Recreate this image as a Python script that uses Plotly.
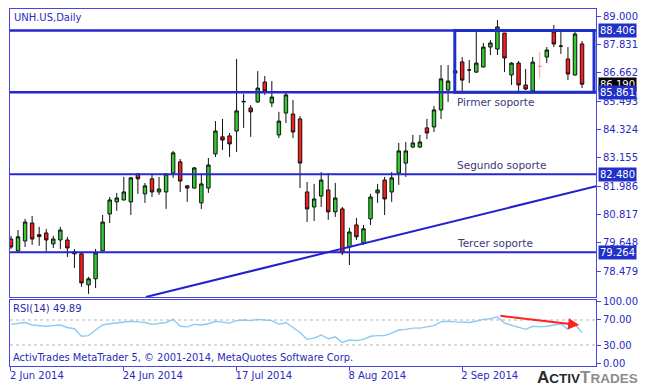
import plotly.graph_objects as go

# ---------------- data ----------------
symbol_title = "UNH.US,Daily"
date_ticks = [0, 16, 32, 48, 64]
date_labels = ["2 Jun 2014", "24 Jun 2014", "17 Jul 2014", "8 Aug 2014", "2 Sep 2014"]

opens = [79.81, 79.32, 79.73, 80.47, 79.99, 80.06, 79.61, 79.77, 79.77, 79.28,
         79.20, 77.92, 78.17, 79.32, 80.84, 81.34, 81.42, 81.34, 82.49, 81.67,
         82.29, 81.75, 81.75, 82.53, 82.99, 82.00, 81.91, 81.30, 81.91, 83.32,
         84.02, 84.06, 84.26, 85.46, 85.21, 85.46, 86.28, 85.42, 84.10, 85.00,
         84.96, 84.76, 81.75, 81.13, 81.58, 81.83, 80.93, 81.05, 79.48, 80.39,
         79.65, 80.64, 81.71, 82.24, 81.75, 82.53, 82.94, 83.60, 83.60, 84.39,
         84.43, 85.13, 85.95, 86.74, 87.11, 86.78, 86.69, 86.90, 87.72, 87.64,
         88.30, 86.57, 87.06, 86.16, 85.91, 86.94, 87.31, 88.34, 87.76, 87.23,
         86.57, 87.85]
highs = [79.94, 80.18, 80.64, 80.76, 80.31, 80.23, 79.94, 80.31, 79.90, 79.40,
         79.24, 78.25, 79.40, 80.80, 81.54, 81.71, 82.37, 82.37, 82.53, 82.12,
         82.49, 82.37, 82.53, 83.44, 83.11, 82.04, 82.78, 82.49, 83.15, 84.67,
         84.76, 84.18, 87.23, 85.79, 85.33, 86.73, 86.53, 86.32, 85.05, 85.83,
         85.54, 84.88, 82.16, 82.08, 82.57, 82.53, 82.12, 81.13, 80.27, 80.68,
         80.39, 81.67, 82.08, 82.37, 82.57, 83.77, 83.81, 84.10, 84.10, 84.76,
         85.29, 86.98, 86.98, 87.19, 87.31, 87.19, 88.38, 87.89, 88.01, 88.84,
         88.30, 87.10, 87.15, 86.82, 87.31, 87.52, 87.72, 88.63, 88.34, 87.72,
         88.34, 87.97]
lows = [79.40, 79.28, 79.48, 79.57, 79.53, 79.28, 79.44, 79.40, 79.07, 78.62,
        77.84, 77.55, 77.79, 79.30, 80.47, 80.97, 81.40, 80.80, 81.67, 81.30,
        81.54, 81.63, 81.05, 82.33, 81.75, 81.34, 81.89, 81.05, 81.71, 83.19,
        83.48, 83.19, 83.40, 84.39, 84.02, 85.42, 85.75, 85.25, 83.97, 84.59,
        83.97, 81.91, 80.51, 80.55, 81.13, 80.60, 80.72, 79.15, 78.74, 79.77,
        79.57, 80.39, 81.30, 80.80, 81.34, 82.04, 82.37, 83.56, 83.56, 83.93,
        84.22, 84.76, 85.46, 86.36, 85.83, 86.24, 86.65, 86.88, 87.39, 87.39,
        86.69, 86.16, 85.87, 85.95, 85.89, 86.45, 87.06, 87.72, 87.44, 86.36,
        86.55, 86.03]
closes = [79.48, 79.90, 80.51, 79.81, 79.91, 79.77, 79.81, 80.18, 79.44, 79.20,
          78.00, 78.17, 79.24, 80.51, 81.42, 81.50, 81.75, 82.33, 82.29, 82.00,
          81.75, 81.87, 82.49, 83.36, 82.20, 81.91, 82.74, 82.08, 82.86, 84.26,
          83.89, 83.73, 85.09, 85.48, 85.05, 86.03, 85.91, 85.66, 84.67, 85.75,
          84.22, 82.94, 81.05, 81.46, 82.24, 80.93, 81.50, 79.24, 80.10, 79.90,
          80.23, 81.54, 81.83, 81.46, 82.33, 83.44, 83.44, 83.77, 83.81, 84.18,
          85.13, 86.41, 86.32, 86.65, 86.36, 86.78, 87.06, 87.72, 87.89, 88.55,
          87.27, 87.06, 86.16, 85.99, 87.10, 86.92, 87.60, 87.85, 87.76, 86.61,
          88.26, 86.19]
faded_bars = [75]   # bar drawn in pale red in the reference

rsi = [63, 65, 66, 62, 61, 60, 61, 62, 58, 56,
       44, 45, 54, 62, 64, 65, 66, 68, 67, 66,
       63, 64, 66, 71, 60, 59, 63, 62, 64, 68,
       66, 65, 69, 70, 69, 71, 70, 69, 63, 66,
       58, 50, 39, 41, 46, 40, 43, 34, 38, 37,
       39, 44, 45, 45, 49, 54, 55, 57, 57, 59,
       61, 67, 68, 67, 66, 66, 68, 71, 72, 75,
       65, 62, 58, 55, 60, 59, 60, 62, 64, 55,
       63, 49.89]
rsi_last = 49.89

price_ticks = [89.000, 87.831, 86.662, 85.493, 84.324, 83.155, 81.986, 80.817, 79.648, 78.479]
rsi_ticks = [100, 70, 30, 0]
rsi_levels = [70, 30]

resistance = 88.406
support1 = 85.861
support2 = 82.480
support3 = 79.264
last_price = 86.190
range_box_bars = [62.95, 82.7]
trend_bars = [19.14, 83.0]
trend_prices = [77.42, 81.986]
rsi_arrow_bars = [69.2, 80.6]
rsi_arrow_vals = [77, 62]

# ---------------- styling ----------------
FONT = "DejaVu Sans"
LINE_BLUE = "#2626d2"
TXT = "#3a3a78"
AXC = "#4646e0"

bars = list(range(len(closes)))
main_idx = [i for i in bars if i not in faded_bars]

fig = go.Figure()
fig.add_trace(go.Candlestick(
    x=[bars[i] for i in main_idx],
    open=[opens[i] for i in main_idx], high=[highs[i] for i in main_idx],
    low=[lows[i] for i in main_idx], close=[closes[i] for i in main_idx],
    xaxis="x", yaxis="y", whiskerwidth=0,
    increasing=dict(line=dict(color="#111111", width=1), fillcolor="#33cc33"),
    decreasing=dict(line=dict(color="#111111", width=1), fillcolor="#ff1a1a"),
    showlegend=False, hoverinfo="skip"))
fig.add_trace(go.Candlestick(
    x=[bars[i] for i in faded_bars],
    open=[opens[i] for i in faded_bars], high=[highs[i] for i in faded_bars],
    low=[lows[i] for i in faded_bars], close=[closes[i] for i in faded_bars],
    xaxis="x", yaxis="y", whiskerwidth=0,
    increasing=dict(line=dict(color="#ff9a9a", width=1), fillcolor="#ff9a9a"),
    decreasing=dict(line=dict(color="#ff9a9a", width=1), fillcolor="#ff9a9a"),
    showlegend=False, hoverinfo="skip"))

fig.add_trace(go.Scatter(x=bars, y=rsi, xaxis="x2", yaxis="y2", mode="lines",
                         line=dict(color="#8ccaf5", width=1.4),
                         showlegend=False, hoverinfo="skip"))

shapes = []
for lvl, w in [(resistance, 2.6), (support1, 2.6), (support2, 1.8), (support3, 1.8)]:
    shapes.append(dict(type="line", xref="x domain", yref="y", x0=0, x1=1, y0=lvl, y1=lvl,
                       line=dict(color=LINE_BLUE, width=w)))
shapes.append(dict(type="rect", xref="x", yref="y", x0=range_box_bars[0], x1=range_box_bars[1],
                   y0=support1, y1=resistance, line=dict(color="#1e2ec8", width=3)))
shapes.append(dict(type="line", xref="x", yref="y", x0=trend_bars[0], x1=trend_bars[1],
                   y0=trend_prices[0], y1=trend_prices[1], line=dict(color="#2222cc", width=2)))
for lv in rsi_levels:
    shapes.append(dict(type="line", xref="x2 domain", yref="y2", x0=0, x1=1, y0=lv, y1=lv,
                       line=dict(color="#b4b4b4", width=1, dash="dot")))

annotations = []
annotations.append(dict(text=symbol_title, xref="paper", yref="y domain", x=0, y=1,
                        xanchor="left", yanchor="top", xshift=2, yshift=-1, showarrow=False,
                        font=dict(family=FONT, size=10, color="#2a2ac0")))
for txt, lvl, anchor, shift in [("Pirmer soporte", support1, "top", -2),
                                 ("Segundo soporte", support2, "bottom", 1),
                                 ("Tercer soporte", support3, "bottom", 1)]:
    annotations.append(dict(text=txt, xref="x", yref="y", x=range_box_bars[0], y=lvl,
                            xanchor="left", yanchor=anchor, yshift=shift, showarrow=False,
                            font=dict(family=FONT, size=10.5, color=TXT)))
for val, bg in [(resistance, "#2030c8"), (last_price, "#000000"), (support1, "#2030c8"),
                (support2, "#2030c8"), (support3, "#2030c8")]:
    annotations.append(dict(text=f"{val:.3f}", xref="paper", yref="y", x=1, y=val,
                            xanchor="left", yanchor="middle", xshift=2, showarrow=False,
                            bgcolor=bg, borderpad=1,
                            font=dict(family=FONT, size=10, color="white")))
annotations.append(dict(text=f"RSI(14) {rsi_last:.2f}", xref="paper", yref="y2 domain", x=0, y=1,
                        xanchor="left", yanchor="top", xshift=1, yshift=-1, showarrow=False,
                        font=dict(family=FONT, size=10, color="#2a2aa8")))
annotations.append(dict(text="ActivTrades MetaTrader 5, © 2001-2014, MetaQuotes Software Corp.",
                        xref="paper", yref="y2 domain", x=0, y=0, xanchor="left", yanchor="bottom",
                        xshift=1, yshift=1, showarrow=False,
                        font=dict(family=FONT, size=9.9, color="#2a2ab8")))
annotations.append(dict(text="", xref="x2", yref="y2", x=rsi_arrow_bars[1], y=rsi_arrow_vals[1],
                        axref="x2", ayref="y2", ax=rsi_arrow_bars[0], ay=rsi_arrow_vals[0],
                        showarrow=True, arrowhead=2, arrowsize=1.1, arrowwidth=2, arrowcolor="#ff2020"))
annotations.append(dict(
    text="<b><span style='color:#2a2a2a'>A<span style='font-size:13.5px'>CTIV</span></span>"
         "<span style='color:#8c8c8c'>T<span style='font-size:13.5px'>RADES</span></span></b>",
    xref="paper", yref="paper", x=1, y=0, xanchor="right", yanchor="top", xshift=44, yshift=0,
    showarrow=False, font=dict(family="Liberation Sans", size=17)))

axis_common = dict(showgrid=False, zeroline=False, showline=True, mirror=True,
                   linecolor=AXC, linewidth=1, automargin=False)

# the page body adds an 8 px offset, so the figure is 8 px smaller and margins compensate
fig.update_layout(
    width=644, height=382,
    margin=dict(l=2, r=56, t=1, b=24, autoexpand=False),
    paper_bgcolor="white", plot_bgcolor="white",
    showlegend=False,
    shapes=shapes, annotations=annotations,
    xaxis=dict(domain=[0, 1], anchor="y", range=[-0.14, 82.98], showticklabels=False,
               ticks="", rangeslider=dict(visible=False), **axis_common),
    xaxis2=dict(domain=[0, 1], anchor="y2", matches="x", range=[-0.14, 82.98],
                tickmode="array", tickvals=date_ticks, ticktext=date_labels,
                ticks="outside", ticklen=4, tickcolor=AXC,
                ticklabelposition="outside right", ticklabelshift=-2,
                tickfont=dict(family=FONT, size=10, color="#2a2ac0"), **axis_common),
    yaxis=dict(domain=[0.1933, 1], anchor="x", side="right", range=[77.42, 89.29],
               tickmode="array", tickvals=price_ticks, ticktext=[f"{v:.3f}" for v in price_ticks],
               ticks="outside", ticklen=4, tickcolor=AXC,
               tickfont=dict(family=FONT, size=10, color="#2a2ac0"), **axis_common),
    yaxis2=dict(domain=[0, 0.1849], anchor="x2", side="right", range=[-3.6, 102],
                tickmode="array", tickvals=rsi_ticks, ticktext=[f"{v:.2f}" for v in rsi_ticks],
                ticks="outside", ticklen=4, tickcolor=AXC,
                tickfont=dict(family=FONT, size=10, color="#2a2ac0"), **axis_common),
)

fig.write_html("out.html")
